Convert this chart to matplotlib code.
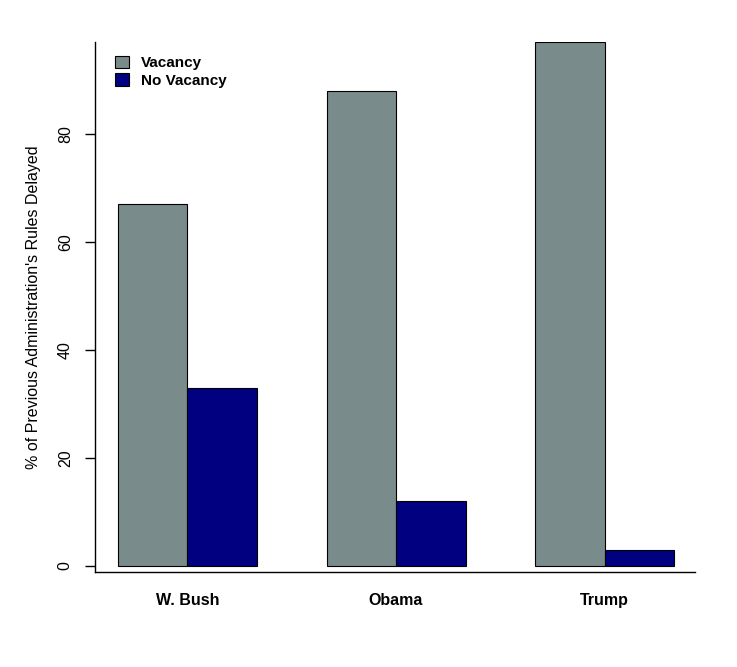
import matplotlib
matplotlib.use("Agg")
import matplotlib.pyplot as plt
import numpy as np
from matplotlib.patches import Patch

plt.rcParams['font.family'] = ['Liberation Sans', 'DejaVu Sans']

categories = ["W. Bush", "Obama", "Trump"]
vacancy = [67, 88, 97]
no_vacancy = [33, 12, 3]
series_names = ["Vacancy", "No Vacancy"]
colors = ["#7A8B8B", "#000080"]
yticks = [0, 20, 40, 60, 80]

fig = plt.figure(figsize=(7.37, 6.67), dpi=100)
ax = fig.add_axes([95/737, 1 - 572/667, 600/737, 530/667])

group_starts = np.array([1, 4, 7])
ax.bar(group_starts, vacancy, width=1, align='edge', color=colors[0],
       edgecolor='black', linewidth=0.8)
ax.bar(group_starts + 1, no_vacancy, width=1, align='edge', color=colors[1],
       edgecolor='black', linewidth=0.8)

ax.set_xlim(0.67, 9.3)
ax.set_ylim(-1.11, 97)

for s in ['top', 'right']:
    ax.spines[s].set_visible(False)
for s in ['left', 'bottom']:
    ax.spines[s].set_linewidth(1.0)

ax.set_yticks(yticks)
ax.set_yticklabels([str(t) for t in yticks], rotation=90, va='center', fontsize=11.5)
ax.tick_params(axis='y', length=7, width=1, pad=9)

ax.set_xticks(group_starts + 1)
ax.set_xticklabels(categories, fontweight='bold', fontsize=11.5)
ax.tick_params(axis='x', length=0, pad=15)

ax.set_ylabel("% of Previous Administration's Rules Delayed", fontsize=11.5, labelpad=12)

handles = [Patch(facecolor=colors[0], edgecolor='black', linewidth=0.8, label=series_names[0]),
           Patch(facecolor=colors[1], edgecolor='black', linewidth=0.8, label=series_names[1])]
leg = ax.legend(handles=handles, loc='upper left', bbox_to_anchor=(0.01, 1.0),
                frameon=False, prop={'weight': 'bold', 'size': 11},
                handlelength=0.9, handleheight=0.9, handletextpad=0.8,
                labelspacing=0.2)

fig.savefig("out.png", dpi=100)
